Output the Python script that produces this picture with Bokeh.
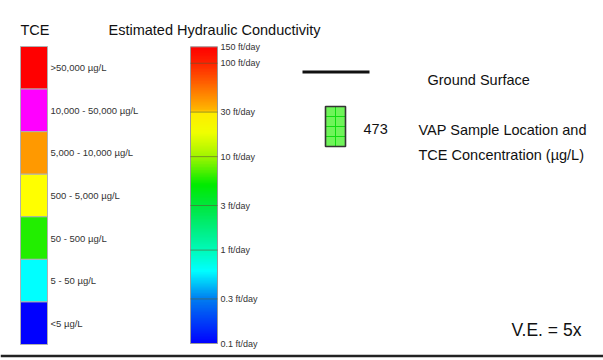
import math
from bokeh.plotting import figure
from bokeh.models import Range1d, LogScale
from bokeh.core.properties import value
from bokeh.embed import file_html
from bokeh.resources import INLINE

# --- legend content -------------------------------------------------------
tce_title = "TCE"
tce_labels = [">50,000 µg/L", "10,000 - 50,000 µg/L", "5,000 - 10,000 µg/L",
              "500 - 5,000 µg/L", "50 - 500 µg/L", "5 - 50 µg/L", "<5 µg/L"]
tce_lower = [50000, 10000, 5000, 500, 50, 5, 0]          # class lower bounds
tce_colors = ["#ff0000", "#ff00ff", "#ff9900", "#ffff00", "#22ee00", "#00ffff", "#0000ff"]

k_title = "Estimated Hydraulic Conductivity"
k_ticks = [150, 100, 30, 10, 3, 1, 0.3, 0.1]
k_labels = ["150 ft/day", "100 ft/day", "30 ft/day", "10 ft/day",
            "3 ft/day", "1 ft/day", "0.3 ft/day", "0.1 ft/day"]
# colour stops of the conductivity ramp (value, rgb)
k_stops = [(150, (255, 0, 0)), (100, (255, 35, 0)), (60, (255, 100, 0)),
           (31, (255, 185, 0)), (30, (255, 235, 0)), (18, (240, 255, 0)),
           (10, (160, 245, 0)), (5, (0, 235, 0)), (3, (0, 230, 60)),
           (1.5, (0, 240, 140)), (1, (0, 250, 185)), (0.6, (0, 255, 255)),
           (0.3, (0, 125, 240)), (0.1, (0, 0, 255))]

ground_label = "Ground Surface"
sample_value = 473
sample_label = ["VAP Sample Location and", "TCE Concentration (µg/L)"]
ve_label = "V.E. = 5x"

FONT = value("Liberation Sans")
W, H = 603, 360

p = figure(width=W, height=H, x_range=Range1d(0, W), y_range=Range1d(H, 0),
           output_backend="svg", toolbar_location=None, min_border=0,
           x_axis_location=None, y_axis_location=None)
p.grid.visible = False
p.outline_line_color = None
p.background_fill_color = "white"

# --- TCE class bar --------------------------------------------------------
bar_top, bar_bot = 46.0, 344.0
bx0, bx1 = 20, 47
n = len(tce_labels)
h = (bar_bot - bar_top) / n
tops = [bar_top + i * h for i in range(n)]
bots = [t + h for t in tops]
mids = [t + h / 2 for t in tops]
p.quad(left=[bx0] * n, right=[bx1] * n, top=tops, bottom=bots,
       fill_color=tce_colors, line_color="#b0b0b0", line_width=1)
p.text(x=[bx1 + 3] * n, y=mids, text=tce_labels, text_font=FONT,
       text_font_size="9.5px", text_color="#333333", text_baseline="middle")
p.text(x=[20], y=[29.5], text=[tce_title], text_font=FONT,
       text_font_size="14.5px", text_color="#111111", text_baseline="alphabetic")

# --- hydraulic conductivity ramp (log scale) -----------------------------
k_top_px, k_bot_px = 46.3, 343.0
lo, hi = math.log10(min(k_ticks)), math.log10(max(k_ticks))
dpp = (hi - lo) / (k_bot_px - k_top_px)
p.extra_y_ranges = {"k": Range1d(10 ** (lo - (H - k_bot_px) * dpp),
                                 10 ** (hi + k_top_px * dpp))}
p.extra_y_scales = {"k": LogScale()}


def ramp_color(v):
    lv = math.log10(v)
    for (va, ca), (vb, cb) in zip(k_stops[:-1], k_stops[1:]):
        la, lb = math.log10(va), math.log10(vb)
        if lb <= lv <= la:
            t = (la - lv) / (la - lb) if la != lb else 0
            r, g, b = (round(ca[j] + (cb[j] - ca[j]) * t) for j in range(3))
            return "#%02x%02x%02x" % (r, g, b)
    return "#%02x%02x%02x" % k_stops[-1][1]


steps = 200
edges = [10 ** (hi - (hi - lo) * i / steps) for i in range(steps + 1)]
seg_top = edges[:-1]
# each slice reaches a little past the next one so no seams show
seg_bot = [max(b / 1.03, edges[-1]) for b in edges[1:]]
seg_col = [ramp_color(math.sqrt(a * b)) for a, b in zip(edges[:-1], edges[1:])]
kx0, kx1 = 190, 217
p.quad(left=[kx0] * steps, right=[kx1] * steps, top=seg_top, bottom=seg_bot,
       fill_color=seg_col, line_color=None, y_range_name="k")
p.quad(left=[kx0], right=[kx1], top=[max(k_ticks)], bottom=[min(k_ticks)],
       fill_color=None, line_color="#9a9a9a", line_width=1, y_range_name="k")
inner = k_ticks[1:-1]
p.segment(x0=[kx0] * len(inner), x1=[kx1] * len(inner), y0=inner, y1=inner,
          line_color="#5a5a30", line_alpha=0.6, line_width=1, y_range_name="k")
p.text(x=[kx1 + 3] * len(k_ticks), y=k_ticks, text=k_labels, text_font=FONT,
       text_font_size="9px", text_color="#333333", text_baseline="middle",
       y_range_name="k")
p.text(x=[108], y=[29.5], text=[k_title], text_font=FONT,
       text_font_size="14.5px", text_color="#111111", text_baseline="alphabetic")

# --- map symbols ----------------------------------------------------------
p.segment(x0=[302], x1=[369], y0=[71.5], y1=[71.5], line_color="#111111",
          line_width=3)
p.text(x=[427], y=[79], text=[ground_label], text_font=FONT,
       text_font_size="14.5px", text_color="#111111", text_baseline="middle")

# sample box coloured by the TCE class of its value
cls = next(i for i, lb in enumerate(tce_lower) if sample_value >= lb)
sx0, sx1, sy0, sy1 = 325, 345, 106, 146
p.quad(left=[sx0], right=[sx1], top=[sy0], bottom=[sy1],
       fill_color=tce_colors[cls], fill_alpha=0.65, line_color=None)
rows = 4
ys = [sy0 + (sy1 - sy0) * i / rows for i in range(1, rows)]
p.segment(x0=[sx0] * len(ys), x1=[sx1] * len(ys), y0=ys, y1=ys,
          line_color="#11dd11", line_width=1)
p.segment(x0=[(sx0 + sx1) / 2], x1=[(sx0 + sx1) / 2], y0=[sy0], y1=[sy1],
          line_color="#11dd11", line_width=1)
p.quad(left=[sx0], right=[sx1], top=[sy0], bottom=[sy1],
       fill_color=None, line_color="#333333", line_width=1.6)
p.text(x=[363], y=[128], text=[str(sample_value)], text_font=FONT,
       text_font_size="14.5px", text_color="#111111", text_baseline="middle")
p.text(x=[418, 418], y=[129, 154], text=sample_label, text_font=FONT,
       text_font_size="14.5px", text_color="#111111", text_baseline="middle")

p.text(x=[511], y=[329], text=[ve_label], text_font=FONT,
       text_font_size="17.5px", text_color="#111111", text_baseline="middle")

# bottom frame rule
p.segment(x0=[0], x1=[W], y0=[355.5], y1=[355.5], line_color="#222222",
          line_width=2.5)

open("out.html", "w").write(file_html(p, INLINE))
